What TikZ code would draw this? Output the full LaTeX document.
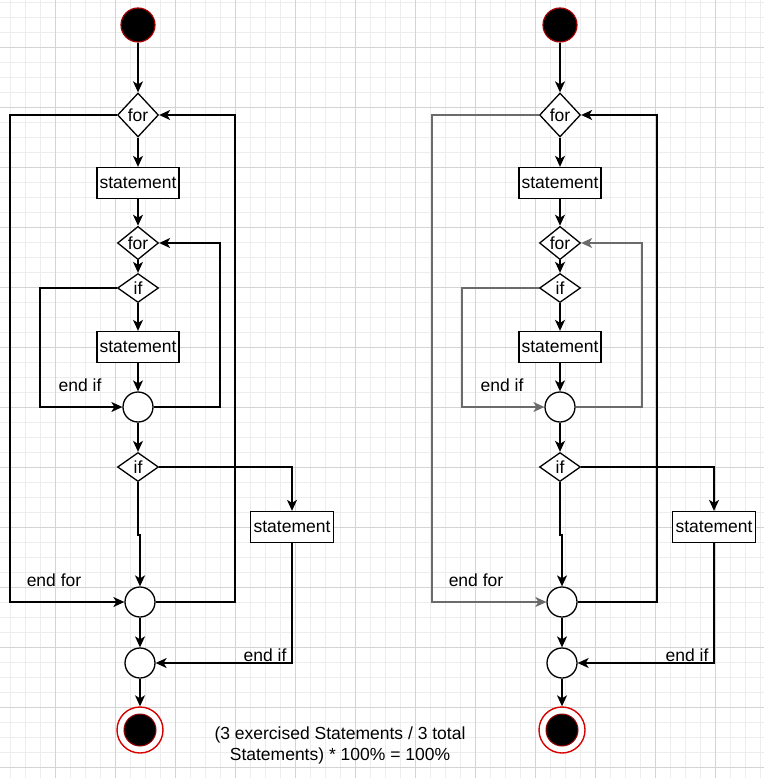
\documentclass[tikz,border=0pt]{standalone}
\usepackage{fontspec}
\setmainfont{Liberation Sans}
\usetikzlibrary{arrows.meta,shapes.geometric,calc}

\tikzset{
  gridminor/.style={draw=black!7, line width=0.6pt},
  gridmajor/.style={draw=black!17, line width=0.8pt},
  tip/.style={-{Stealth[length=11pt,width=10pt,inset=3pt]}},
  link/.style={line width=1.4pt, draw=black},
  conn/.style={link, tip},
  faded/.style={line width=1.2pt, draw=black!58},
  innerloop/.style={link},
  outerexit/.style={link},
  stmtbox/.style={draw, line width=1.3pt, fill=white, minimum width=82pt,
    minimum height=31pt, inner sep=0pt},
  decision/.style={diamond, draw, line width=1.3pt, fill=white, aspect=1,
    inner sep=0pt, minimum width=41pt, minimum height=29pt},
  bigdecision/.style={decision, minimum height=44pt},
  merge/.style={circle, draw, line width=1.3pt, fill=white, minimum size=30pt,
    inner sep=0pt},
  startdot/.style={circle, fill=black, draw=red!65!black, line width=1.2pt,
    minimum size=34pt, inner sep=0pt},
  endring/.style={circle, fill=white, draw=red!85!black, line width=1.4pt,
    minimum size=46pt, inner sep=0pt},
  enddot/.style={circle, fill=black, draw=red!60!black, line width=1pt,
    minimum size=32pt, inner sep=0pt},
  lbl/.style={inner sep=0pt}
}

% One activity chart: nested for / if with their merge points
\newcommand{\activitychart}{%
  \node[startdot] (start) at (138,25) {};
  \node[bigdecision] (for1) at (138,115) {for};
  \node[stmtbox] (st1) at (138,183) {statement};
  \node[decision] (for2) at (138,243) {for};
  \node[decision] (if1) at (138,288) {if};
  \node[stmtbox] (st2) at (138,347) {statement};
  \node[merge] (c1) at (138,407) {};
  \node[decision] (if2) at (138,467) {if};
  \node[stmtbox, minimum width=83pt] (st3) at (292,527) {statement};
  \node[merge] (c2) at (140,602) {};
  \node[merge] (c3) at (140,663) {};
  \node[endring] (end) at (140,730) {};
  \node[enddot] (endcore) at (140,730) {};
  \coordinate (jog) at (138,535);
  \coordinate (xouterL) at (10,0);
  \coordinate (xouterR) at (235,0);
  \coordinate (xinnerL) at (40,0);
  \coordinate (xinnerR) at (220,0);
  % main flow
  \draw[conn] (start) -- (for1);
  \draw[conn] (for1) -- (st1);
  \draw[conn] (st1) -- (for2);
  \draw[conn] (for2) -- (if1);
  \draw[conn] (if1) -- (st2);
  \draw[conn] (st2) -- (c1);
  \draw[conn] (c1) -- (if2);
  \draw[conn] (if2.south) -- (jog) -| (c2.north);
  \draw[conn] (c2) -- (c3);
  \draw[conn] (c3) -- (end);
  % second if: true branch and its end
  \draw[conn] (if2.east) -| (st3.north);
  \draw[conn] (st3.south) |- (c3.east);
  % inner if skips the statement
  \draw[innerloop, tip] (if1.west) -- (if1.west -| xinnerL) |- (c1.west);
  % inner for loops back
  \draw[innerloop, tip] (c1.east) -- (c1.east -| xinnerR) |- (for2.east);
  % outer for exits
  \draw[outerexit, tip] (for1.west) -- (for1.west -| xouterL) |- (c2.west);
  % outer for loops back
  \draw[conn] (c2.east) -- (c2.east -| xouterR) |- (for1.east);
  % labels
  \node[lbl] (lblendif) at (80,385) {end if};
  \node[lbl] (lblendfor) at (54,580) {end for};
  \node[lbl] (lblendif2) at (265,655) {end if};
}

\begin{document}
\begin{tikzpicture}[x=1pt, y=-1pt, font=\fontsize{17.5}{21}\selectfont]
  \fill[white] (0,0) rectangle (764,778);
  \useasboundingbox (0,0) rectangle (764,778);
  % background grid
  \foreach \x in {10,25,...,760} \draw[gridminor] (\x,0) -- (\x,778);
  \foreach \y in {2,17,...,777} \draw[gridminor] (0,\y) -- (764,\y);
  \foreach \x in {55,115,...,715} \draw[gridmajor] (\x,0) -- (\x,778);
  \foreach \y in {47,107,...,767} \draw[gridmajor] (0,\y) -- (764,\y);

  \begin{scope}[name prefix=l-]
    \activitychart
  \end{scope}

  \begin{scope}[xshift=422pt, name prefix=r-,
      innerloop/.style={faded}, outerexit/.style={faded}]
    \activitychart
  \end{scope}

  \node[align=center, inner sep=0pt] (formula) at (340,745)
    {(3 exercised Statements / 3 total\\Statements) * 100\% = 100\%};
\end{tikzpicture}
\end{document}
